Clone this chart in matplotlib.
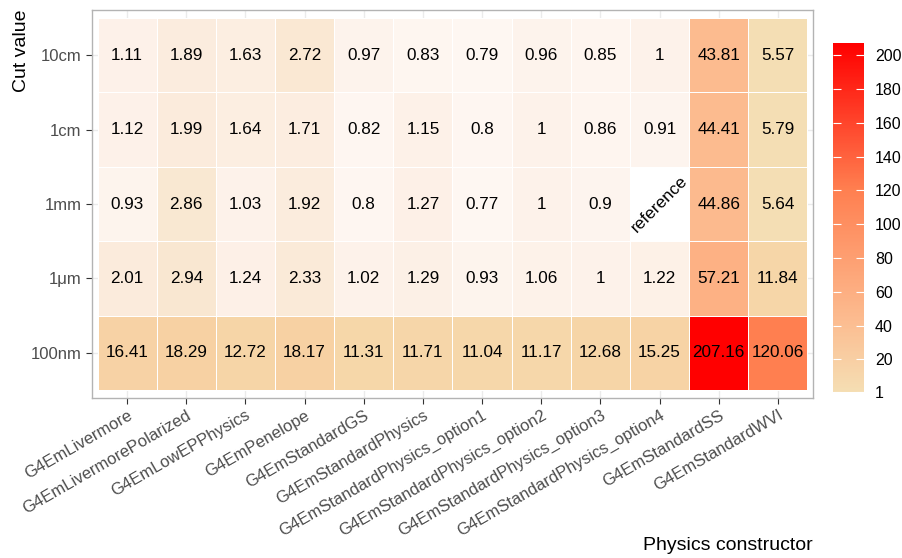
import numpy as np
import matplotlib
matplotlib.use("Agg")
import matplotlib.pyplot as plt
from matplotlib.colors import LinearSegmentedColormap, Normalize
from matplotlib.cm import ScalarMappable

plt.rcParams['font.family'] = ['Liberation Sans', 'DejaVu Sans']

constructors = ["G4EmLivermore", "G4EmLivermorePolarized", "G4EmLowEPPhysics",
                "G4EmPenelope", "G4EmStandardGS", "G4EmStandardPhysics",
                "G4EmStandardPhysics_option1", "G4EmStandardPhysics_option2",
                "G4EmStandardPhysics_option3", "G4EmStandardPhysics_option4",
                "G4EmStandardSS", "G4EmStandardWVI"]
cuts = ["10cm", "1cm", "1mm", "1\u03bcm", "100nm"]

row_10cm = [1.11, 1.89, 1.63, 2.72, 0.97, 0.83, 0.79, 0.96, 0.85, 1, 43.81, 5.57]
row_1cm = [1.12, 1.99, 1.64, 1.71, 0.82, 1.15, 0.8, 1, 0.86, 0.91, 44.41, 5.79]
row_1mm = [0.93, 2.86, 1.03, 1.92, 0.8, 1.27, 0.77, 1, 0.9, np.nan, 44.86, 5.64]
row_1um = [2.01, 2.94, 1.24, 2.33, 1.02, 1.29, 0.93, 1.06, 1, 1.22, 57.21, 11.84]
row_100nm = [16.41, 18.29, 12.72, 18.17, 11.31, 11.71, 11.04, 11.17, 12.68, 15.25, 207.16, 120.06]

values = np.array([row_10cm, row_1cm, row_1mm, row_1um, row_100nm])
ref_cell = ("1mm", "G4EmStandardPhysics_option4")

vmin, vmax = np.nanmin(values), np.nanmax(values)
norm = Normalize(vmin=vmin, vmax=vmax)

# legend gradient: wheat -> red
bar_cmap = LinearSegmentedColormap.from_list(
    "wheatred", [(0.0, "#F5DEB3"), (0.21, "#FCBB8F"), (0.58, "#FF7F50"), (1.0, "#FF0000")])

# tile colours: near-white for ratios around 1, then into the same gradient
def pos(v):
    return (v - vmin) / (vmax - vmin)

tile_cmap = LinearSegmentedColormap.from_list(
    "tiles", [(0.0, "#FEF7F2"), (pos(1.0), "#FDF2EA"), (pos(2.0), "#FBEBDC"),
              (pos(3.0), "#F9E7D0"), (pos(5.6), "#F4DEB4"), (pos(12), "#F6D6A8"),
              (0.21, "#FCBB8F"), (0.58, "#FF7F50"), (1.0, "#FF0000")], N=8192)
tile_cmap.set_bad("white")

fig = plt.figure(figsize=(9.03, 5.58), dpi=100)
ax = fig.add_axes([92/903, 1-398/558, 721/903, 388/558])

nr, nc = values.shape
xe = np.arange(nc + 1) + 0.5
ye = np.arange(nr + 1) + 0.5
ax.pcolormesh(xe, ye, np.ma.masked_invalid(values), cmap=tile_cmap, norm=norm,
              edgecolors="white", linewidth=0.7, zorder=2)

for i in range(nr):
    for j in range(nc):
        v = values[i, j]
        if np.isnan(v):
            continue
        ax.text(j + 1, i + 1, f"{v:g}", ha="center", va="center",
                fontsize=12.3, color="black", zorder=3)

ri = cuts.index(ref_cell[0])
cj = constructors.index(ref_cell[1])
ax.text(cj + 1, ri + 1, "reference", rotation=45, ha="center", va="center",
        fontsize=12.3, color="black", zorder=3)

ax.set_xlim(0.5 - 0.093, nc + 0.5 + 0.093)
ax.set_ylim(nr + 0.5 + 0.107, 0.5 - 0.107)
ax.set_xticks(np.arange(1, nc + 1))
ax.set_yticks(np.arange(1, nr + 1))
ax.set_xticklabels(constructors, rotation=30, ha="right", rotation_mode="anchor")
ax.set_yticklabels(cuts)
ax.tick_params(colors="#333333", labelcolor="#4D4D4D", labelsize=12, length=4, width=0.8)
ax.tick_params(axis="x", pad=3)
ax.grid(color="#EBEBEB", lw=1, zorder=0)
ax.set_axisbelow(True)
for s in ax.spines.values():
    s.set_color("#B3B3B3")
    s.set_linewidth(1)

fig.text(813/903, 1-545/558, "Physics constructor", ha="right", va="center", fontsize=14)
fig.text(22/903, 1-10/558, "Cut value", ha="center", va="top", rotation=90, fontsize=14)

# colour bar
cax = fig.add_axes([833/903, 1-392/558, 31/903, 349/558])
cb = fig.colorbar(ScalarMappable(norm=norm, cmap=bar_cmap), cax=cax)
cb.outline.set_visible(False)
cb.set_ticks([1, 20, 40, 60, 80, 100, 120, 140, 160, 180, 200])
cax.tick_params(direction="in", color="white", length=6, width=0.8,
                left=True, right=True, labelsize=11.5, labelcolor="black", pad=8)

fig.savefig("out.png", dpi=100)
